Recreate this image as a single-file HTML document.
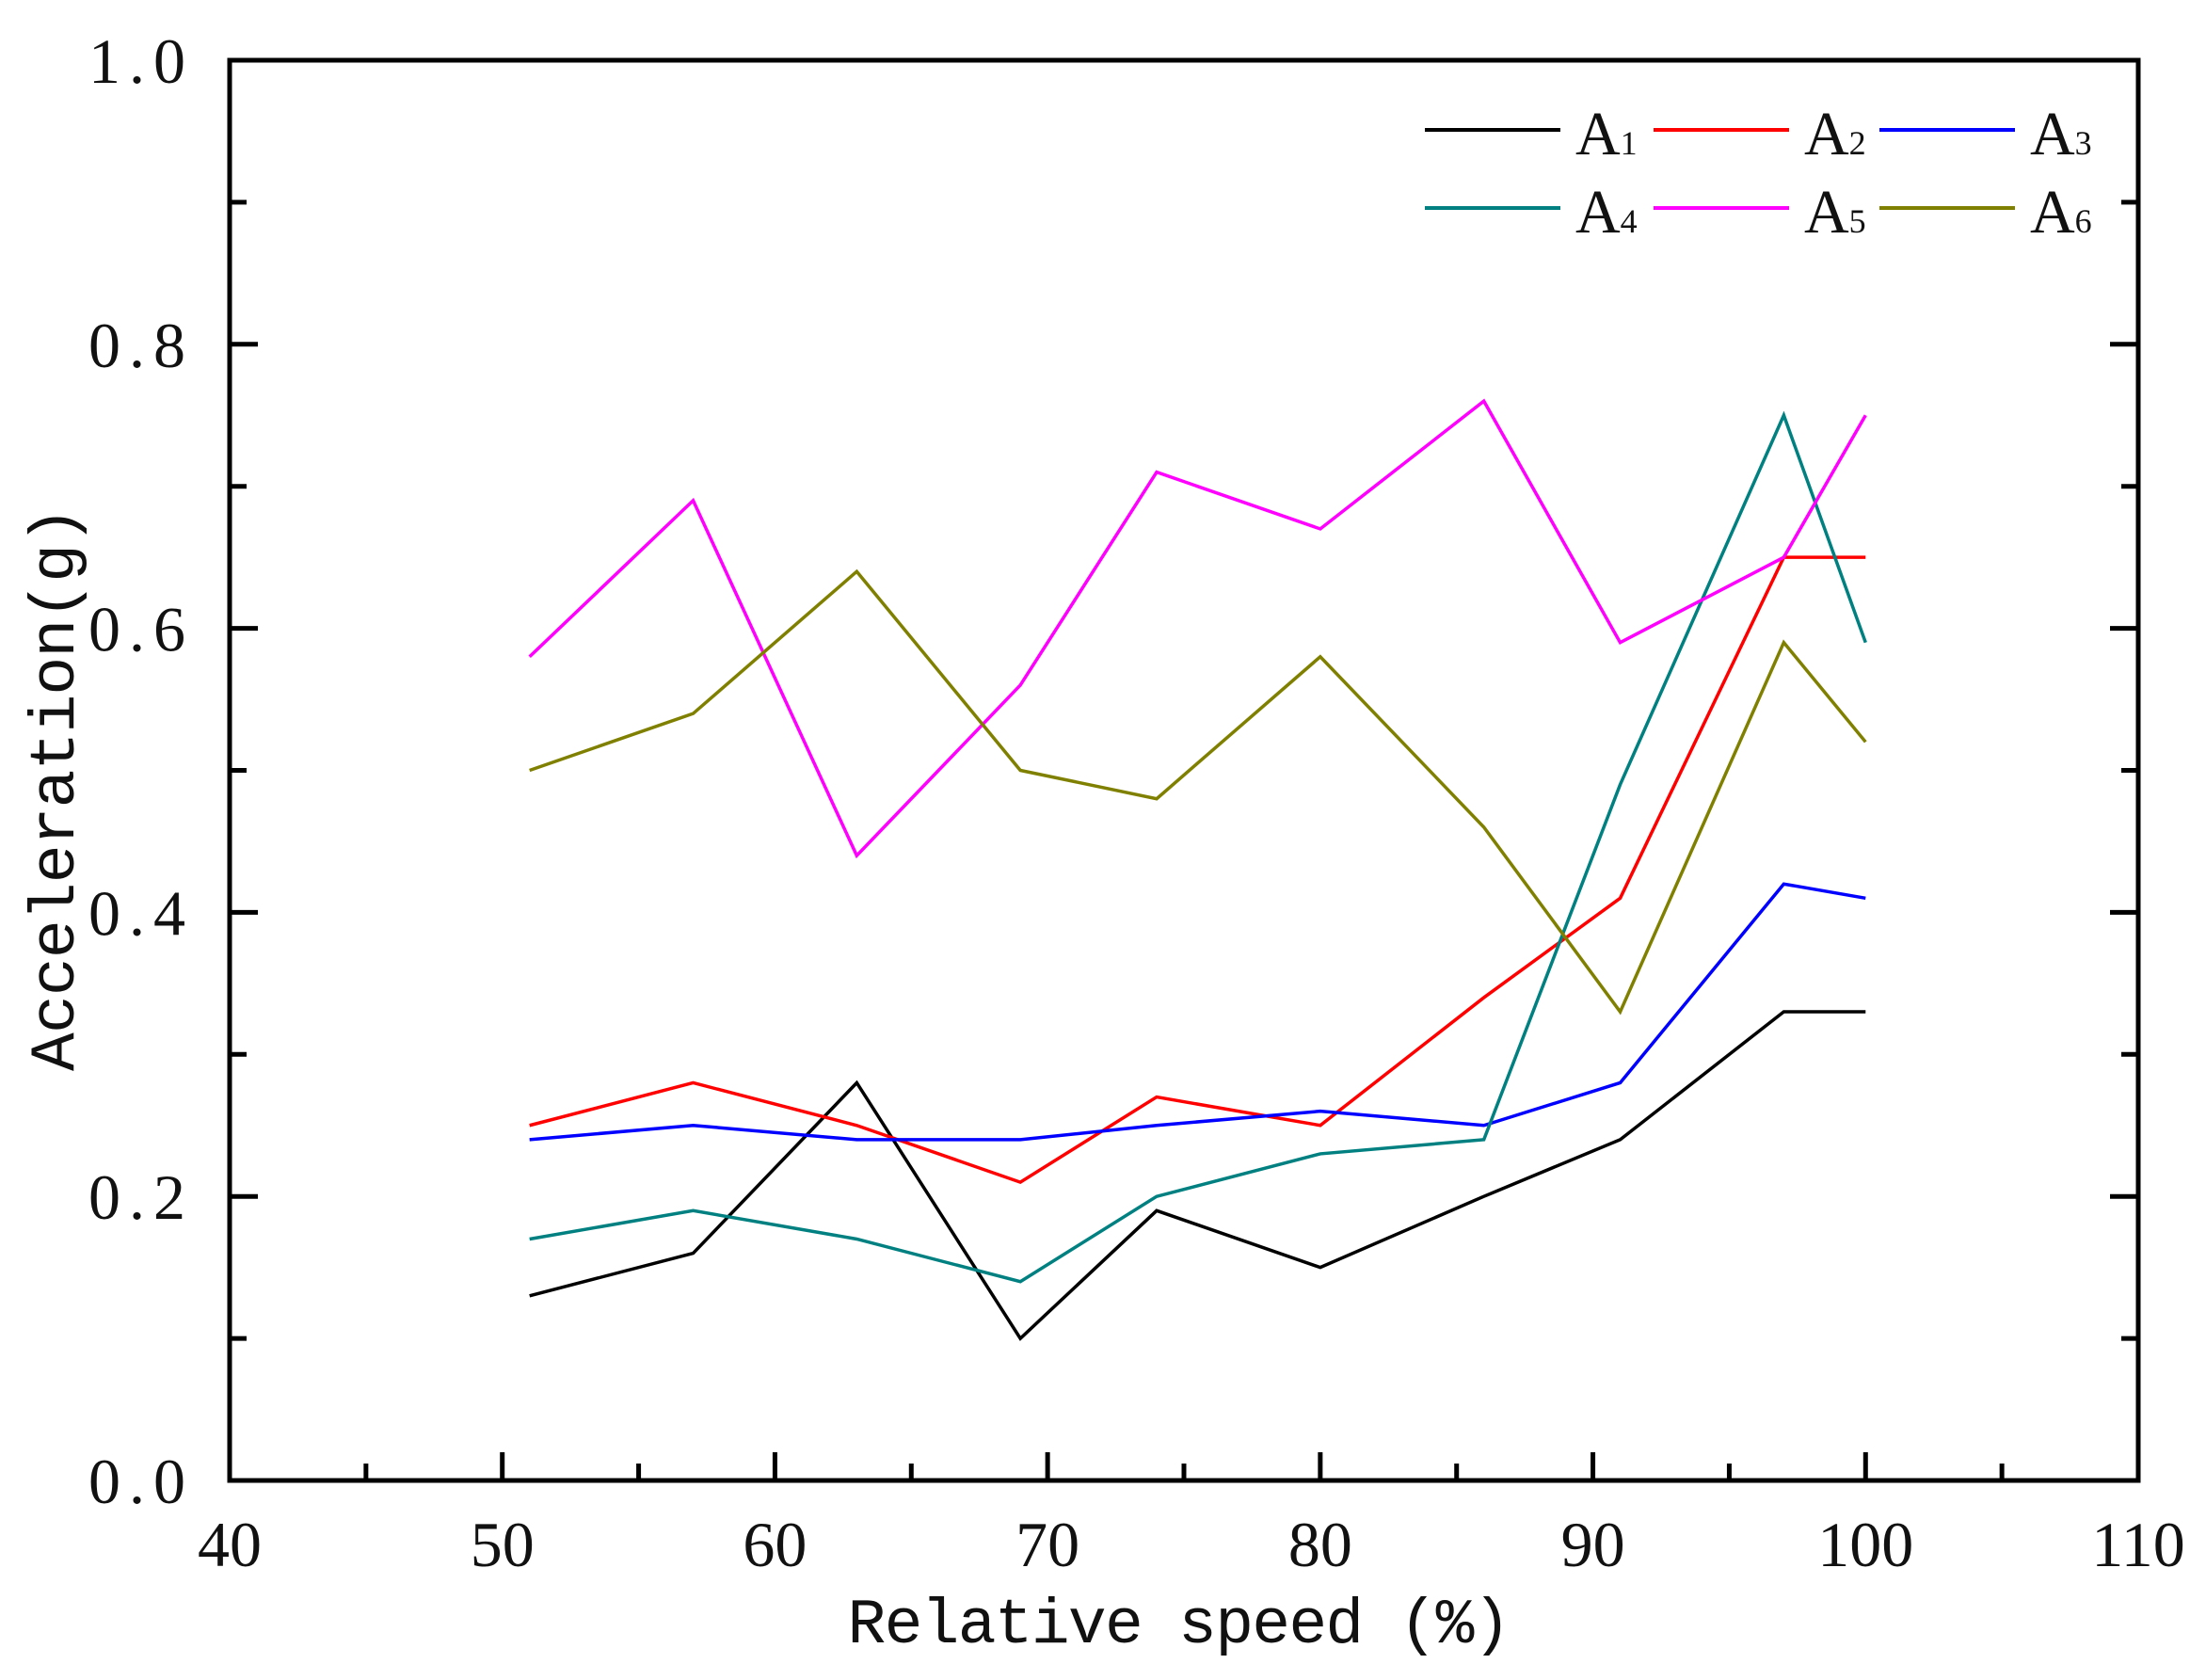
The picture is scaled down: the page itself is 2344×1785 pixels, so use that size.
<!DOCTYPE html>
<html><head><meta charset="utf-8"><style>
html,body{margin:0;padding:0;background:#fff;}
svg{display:block;}
text{font-family:"Liberation Serif","Noto Serif CJK SC",serif;fill:#111;}
</style></head><body>
<svg id="chart" width="2344" height="1785" viewBox="0 0 2344 1785" xmlns="http://www.w3.org/2000/svg">
<g id="axes"></g>
<g id="series"></g>
<g id="legend"></g>
<text x="1253" y="1745" font-size="68" text-anchor="middle" textLength="705" style="font-family:'Liberation Mono',monospace">Relative speed (%)</text>
<text transform="translate(78,838) rotate(-90)" font-size="68" text-anchor="middle" textLength="600" style="font-family:'Liberation Mono',monospace">Acceleration(g)</text>
</svg>
<script>
const speeds = [51,57,63,69,74,80,86,91,97,100];
const a1 = [0.13,0.16,0.28,0.10,0.19,0.15,0.20,0.24,0.33,0.33];
const a2 = [0.25,0.28,0.25,0.21,0.27,0.25,0.34,0.41,0.65,0.65];
const a3 = [0.24,0.25,0.24,0.24,0.25,0.26,0.25,0.28,0.42,0.41];
const a4 = [0.17,0.19,0.17,0.14,0.20,0.23,0.24,0.49,0.75,0.59];
const a5 = [0.58,0.69,0.44,0.56,0.71,0.67,0.76,0.59,0.65,0.75];
const a6 = [0.50,0.54,0.64,0.50,0.48,0.58,0.46,0.33,0.59,0.52];
const seriesNames = ["A1","A2","A3","A4","A5","A6"];
const xTicks = [40,50,60,70,80,90,100,110];
const yTicks = ["0.0","0.2","0.4","0.6","0.8","1.0"];

const L=244,R=2272,T=64,B=1573;
const X0=40,X1=110,Y0=0,Y1=1;
const sx=v=>L+(v-X0)/(X1-X0)*(R-L);
const sy=v=>B-(v-Y0)/(Y1-Y0)*(B-T);
const NS="http://www.w3.org/2000/svg";
function mk(tag,attrs,parent){const e=document.createElementNS(NS,tag);for(const k in attrs)e.setAttribute(k,attrs[k]);parent.appendChild(e);return e;}
const axes=document.getElementById('axes');
const frame=mk('rect',{x:L,y:T,width:R-L,height:B-T,fill:'none',stroke:'#000','stroke-width':5},axes);


for(let v=45;v<110;v+=5){
  const major=v%10===0;
  const t=mk('line',{x1:sx(v),x2:sx(v),y1:B,y2:B-(major?30:18),stroke:'#000','stroke-width':5},axes);
  
  
}
xTicks.forEach(v=>{
  const t=mk('text',{x:sx(v),y:1664,'font-size':68,'text-anchor':'middle'},axes);
  t.textContent=v;
  
  
});
for(let i=1;i<10;i++){
  const v=i/10, major=i%2===0;
  const len=major?30:18;
  const t1=mk('line',{x1:L,x2:L+len,y1:sy(v),y2:sy(v),stroke:'#000','stroke-width':5},axes);
  
  
  const t2=mk('line',{x1:R,x2:R-len,y1:sy(v),y2:sy(v),stroke:'#000','stroke-width':5},axes);
  
  
}
yTicks.forEach(s=>{
  const t=mk('text',{x:206,y:sy(parseFloat(s))+24,'font-size':68,'text-anchor':'end','letter-spacing':'9'},axes);
  t.textContent=s;
  
  
});
const colors=["#000000","#ff0000","#0000ff","#008080","#ff00ff","#808000"];
const data=[a1,a2,a3,a4,a5,a6];
const sg=document.getElementById('series');
data.forEach((arr,i)=>{
  const pts=arr.map((v,j)=>sx(speeds[j])+','+sy(v)).join(' ');
  const p=mk('polyline',{points:pts,fill:'none',stroke:colors[i],'stroke-width':3.5,'stroke-linejoin':'miter'},sg);
  
  
});
const lg=document.getElementById('legend');
const colX=[1514,1757,1997], rowY=[138,221];
seriesNames.forEach((n,i)=>{
  const c=i%3,r=Math.floor(i/3);
  const ln=mk('line',{x1:colX[c],x2:colX[c]+144,y1:rowY[r],y2:rowY[r],stroke:colors[i],'stroke-width':4},lg);
  
  
  const t=mk('text',{x:colX[c]+160,y:rowY[r]+26,'font-size':66},lg);
  
  
  t.appendChild(document.createTextNode('A'));
  const sub=mk('tspan',{'font-size':36},t);
  sub.textContent=n.slice(1);
});
</script>
</body></html>
